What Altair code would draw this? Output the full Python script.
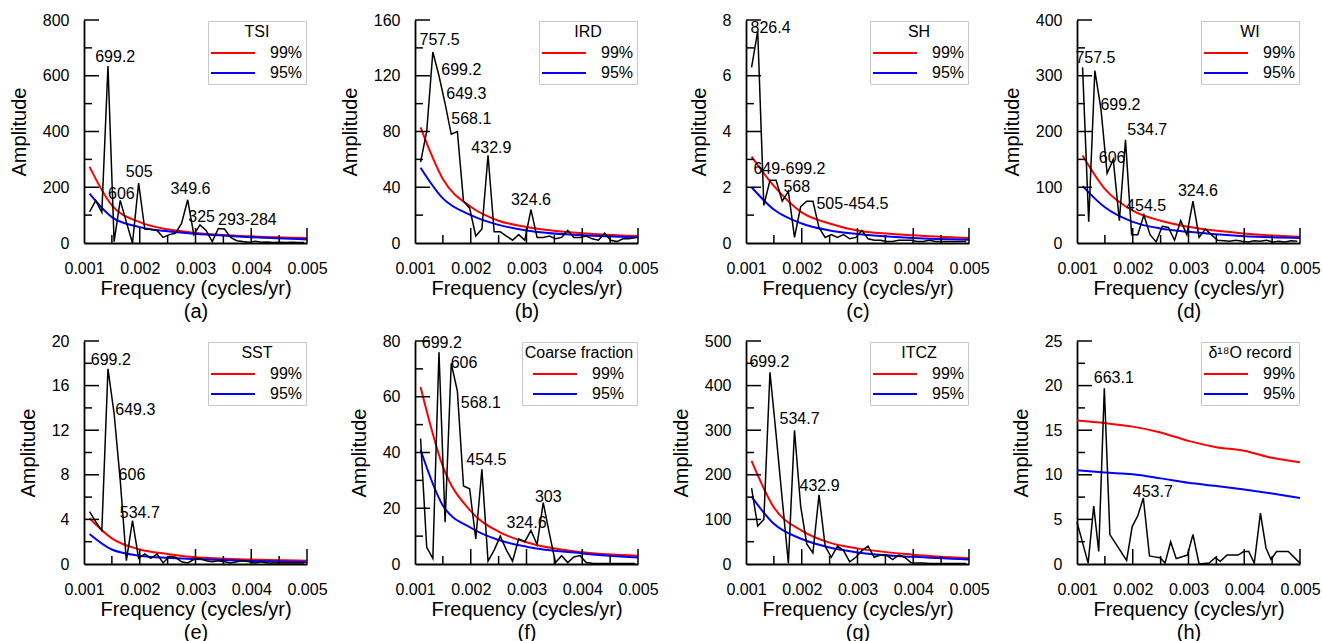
import altair as alt
import pandas as pd

FONT = "Liberation Sans"
W = 223
H = 223
MAJOR_TICK_PX = 15
MINOR_TICK_PX = 8

# ---- spectral frequencies (cycles/yr) ----
FREQ = [0.00110, 0.00121, 0.00132, 0.00143, 0.00154, 0.00165, 0.00176, 0.00187,
        0.00198, 0.00209, 0.00220, 0.00231, 0.00242, 0.00253, 0.00264, 0.00275,
        0.00286, 0.00297, 0.00308, 0.00319, 0.00330, 0.00341, 0.00352, 0.00363,
        0.00374, 0.00385, 0.00396, 0.00407, 0.00418, 0.00429, 0.00440, 0.00451,
        0.00462, 0.00473, 0.00484, 0.00495]

TSI = [112, 152, 110, 635, 5, 153, 75, 0, 215, 50, 48, 45, 20, 30, 35, 70, 155, 30,
       65, 45, 5, 52, 50, 20, 8, 5, 3, 6, 3, 4, 2, 3, 2, 3, 2, 2]
IRD = [58, 80, 137, 120, 100, 78, 80, 30, 25, 5, 10, 63, 8, 8, 5, 2, 6, 2,
       24, 4, 4, 5, 3, 4, 9, 4, 4, 5, 3, 2, 7, 2, 1, 3, 3, 4]
SH = [6.3, 7.6, 1.35, 2.25, 2.25, 1.5, 1.85, 0.2, 1.3, 1.5, 1.5, 0.55, 0.2, 0.3,
      0.2, 0.3, 0.15, 0.2, 0.45, 0.15, 0.1, 0.1, 0.05, 0.05, 0.1, 0.1, 0.1, 0.05,
      0.05, 0.1, 0.05, 0.05, 0.05, 0.05, 0.05, 0.05]
WI = [315, 38, 309, 240, 125, 150, 40, 185, 15, 15, 50, 15, 2, 30, 28, 5, 40, 15,
      75, 10, 25, 15, 5, 4, 3, 5, 3, 2, 4, 3, 5, 2, 3, 2, 4, 3]
SST = [4.7, 3.8, 3.0, 17.5, 13.5, 7.5, 0.3, 3.9, 0.5, 0.9, 0.5, 0.9, 0.1, 0.7,
       0.6, 0.2, 0.1, 0.4, 0.5, 0.3, 0.2, 0.3, 0.2, 0.1, 0.2, 0.3, 0.2, 0.1, 0.2,
       0.1, 0.1, 0.1, 0.1, 0.1, 0.1, 0.1]
COARSE = [45, 6, 2, 76, 15, 72, 62, 28, 27, 9, 34, 1, 5, 10, 5, 1, 9, 8, 12, 7,
          22, 11, 0.5, 3, 0.5, 2.5, 3, 0.5, 0.3, 0.2, 0.2, 0.2, 0.2, 0.2, 0.2, 0.2]
ITCZ = [170, 85, 100, 430, 290, 145, 2, 300, 130, 45, 25, 155, 40, 15, 40, 30, 5,
        15, 30, 40, 15, 20, 20, 10, 20, 15, 3, 2, 2, 1, 1, 1, 1, 1, 1, 1]

D18O_FREQ = [0.00100, 0.00120, 0.00130, 0.00139, 0.00149, 0.00159, 0.00189,
             0.00199, 0.00209, 0.00219, 0.00230, 0.00239, 0.00249, 0.00258,
             0.00268, 0.00278, 0.00298, 0.00308, 0.00319, 0.00337, 0.00348,
             0.00357, 0.00369, 0.00389, 0.00399, 0.00408, 0.00418, 0.00429,
             0.00439, 0.00448, 0.00458, 0.00479, 0.00500]
D18O = [4.7, 0.1, 6.5, 1.4, 19.7, 3.3, 0.4, 4.2, 5.4, 7.4, 0.9, 0.8, 0.7, 0.1, 2.5,
        0.6, 1.0, 3.3, 0.0, 0.1, 0.7, 0.3, 1.0, 1.0, 1.4, 1.4, 0.1, 5.7, 1.8, 0.5,
        1.4, 1.4, 0.1]

# ---- confidence levels ----
CONF_FREQ = [0.0011, 0.0015, 0.002, 0.0025, 0.003, 0.004, 0.005]
TSI_99 = [273, 135, 75, 49, 36, 24, 18]
TSI_95 = [177, 93, 57, 42, 33, 21, 13]
IRD_99 = [83, 46, 26, 16, 11.5, 7, 5]
IRD_95 = [54, 32, 20, 13, 9, 5.5, 4]
SH_99 = [3.1, 2.05, 1.1, 0.7, 0.45, 0.28, 0.18]
SH_95 = [2.0, 1.2, 0.7, 0.45, 0.32, 0.18, 0.12]
WI_99 = [157, 97, 58, 40, 29, 17, 11]
WI_95 = [102, 64, 38, 26, 20, 12, 9]
SST_99 = [4.1, 2.3, 1.3, 0.9, 0.6, 0.4, 0.3]
SST_95 = [2.7, 1.3, 0.75, 0.55, 0.45, 0.27, 0.18]
COARSE_99 = [63.5, 35, 19, 11.6, 7.8, 4.2, 3]
COARSE_95 = [41, 21, 13, 8.6, 6.2, 3.8, 2.3]
ITCZ_99 = [231, 127, 75, 48, 35, 21, 13]
ITCZ_95 = [151, 90, 56, 37, 26, 16, 10]
D18O_CONF_FREQ = [0.001, 0.0015, 0.002, 0.0025, 0.003, 0.0035, 0.004, 0.0045, 0.005]
D18O_99 = [16.1, 15.8, 15.4, 14.75, 13.8, 13.1, 12.7, 11.9, 11.4]
D18O_95 = [10.5, 10.25, 10.05, 9.6, 9.1, 8.75, 8.35, 7.9, 7.4]

# ---- peak annotations: (text, frequency, amplitude) ----
TSI_LABELS = [("699.2", 0.00156, 667), ("606", 0.00167, 177), ("505", 0.00199, 253),
              ("349.6", 0.00291, 193), ("325", 0.00311, 93), ("293-284", 0.00393, 81)]
IRD_LABELS = [("757.5", 0.00144, 146), ("699.2", 0.00183, 124), ("649.3", 0.00192, 106.6),
              ("568.1", 0.00201, 89), ("432.9", 0.00237, 68.5), ("324.6", 0.00308, 31)]
SH_LABELS = [("826.4", 0.00144, 7.72), ("649-699.2", 0.00178, 2.65), ("568", 0.00191, 2.01),
             ("505-454.5", 0.00291, 1.41)]
WI_LABELS = [("757.5", 0.00133, 332), ("699.2", 0.00178, 247), ("534.7", 0.00226, 203),
             ("606", 0.00163, 152), ("454.5", 0.00224, 66), ("324.6", 0.00317, 93)]
SST_LABELS = [("699.2", 0.00148, 18.3), ("649.3", 0.00192, 13.8), ("606", 0.00186, 7.96),
              ("534.7", 0.00200, 4.55)]
COARSE_LABELS = [("699.2", 0.00148, 79.2), ("606", 0.00188, 72.2), ("568.1", 0.00218, 57.8),
                 ("454.5", 0.00228, 37.4), ("324.6", 0.00300, 14.6), ("303", 0.00339, 24)]
ITCZ_LABELS = [("699.2", 0.00142, 453), ("534.7", 0.00196, 324), ("432.9", 0.00232, 175)]
D18O_LABELS = [("663.1", 0.00166, 20.9), ("453.7", 0.00236, 8.1)]

X_MIN, X_MAX = 0.001, 0.005
X_LABELS = [0.001, 0.002, 0.003, 0.004, 0.005]
X_MAJOR = [0.002, 0.003, 0.004, 0.005]
X_MINOR = [0.0015, 0.0025, 0.0035, 0.0045]

PANELS = [
    ("TSI", "a", FREQ, TSI, CONF_FREQ, TSI_99, TSI_95, 800, 200, TSI_LABELS),
    ("IRD", "b", FREQ, IRD, CONF_FREQ, IRD_99, IRD_95, 160, 40, IRD_LABELS),
    ("SH", "c", FREQ, SH, CONF_FREQ, SH_99, SH_95, 8, 2, SH_LABELS),
    ("WI", "d", FREQ, WI, CONF_FREQ, WI_99, WI_95, 400, 100, WI_LABELS),
    ("SST", "e", FREQ, SST, CONF_FREQ, SST_99, SST_95, 20, 4, SST_LABELS),
    ("Coarse fraction", "f", FREQ, COARSE, CONF_FREQ, COARSE_99, COARSE_95, 80, 20, COARSE_LABELS),
    ("ITCZ", "g", FREQ, ITCZ, CONF_FREQ, ITCZ_99, ITCZ_95, 500, 100, ITCZ_LABELS),
    ("δ¹⁸O record", "h", D18O_FREQ, D18O, D18O_CONF_FREQ, D18O_99, D18O_95, 25, 5, D18O_LABELS),
]


def make_panel(name, letter, freq, amp, cfreq, c99, c95, ymax, ystep, labels):
    ymajor = [ystep * i for i in range(int(round(ymax / ystep)) + 1)]
    yminor = [v + ystep / 2 for v in ymajor[:-1]]

    xs = alt.Scale(domain=[X_MIN, X_MAX], nice=False, zero=False)
    ys = alt.Scale(domain=[0, ymax], nice=False, zero=True)
    xaxis = alt.Axis(values=X_LABELS, format=".3f", ticks=False, tickSize=0, grid=False,
                     domainColor="black", domainWidth=1.8,
                     labelFont=FONT, labelFontSize=16, labelColor="black",
                     labelPadding=17, labelFlush=False, labelOverlap=False,
                     title=["Frequency (cycles/yr)", f"({letter})"],
                     titleFont=FONT, titleFontSize=20, titleFontWeight="normal",
                     titleColor="black", titlePadding=2, titleLineHeight=23)
    yaxis = alt.Axis(values=ymajor, format="d", ticks=False, tickSize=0, grid=False,
                     domainColor="black", domainWidth=1.8,
                     labelFont=FONT, labelFontSize=16, labelColor="black",
                     labelPadding=15, labelFlush=False, labelOverlap=False,
                     title="Amplitude", titleFont=FONT, titleFontSize=20,
                     titleFontWeight="normal", titleColor="black", titlePadding=13)

    def X():
        return alt.X("f:Q", scale=xs, axis=xaxis)

    def Y():
        return alt.Y("a:Q", scale=ys, axis=yaxis)

    # spectrum plus inward axis ticks, each tick a separate two-point segment
    sid, sord, sf, sa = [], [], [], []
    for i, (fv, av) in enumerate(zip(freq, amp)):
        sid.append("spec"); sord.append(i); sf.append(fv); sa.append(av)
    n = 0
    for v, px in [(v, MAJOR_TICK_PX) for v in X_MAJOR] + [(v, MINOR_TICK_PX) for v in X_MINOR]:
        sid += [f"t{n}", f"t{n}"]; sord += [0, 1]; sf += [v, v]; sa += [0.0, ymax * px / H]; n += 1
    for v, px in [(v, MAJOR_TICK_PX) for v in ymajor[1:]] + [(v, MINOR_TICK_PX) for v in yminor]:
        sid += [f"t{n}", f"t{n}"]; sord += [0, 1]
        sf += [X_MIN, X_MIN + (X_MAX - X_MIN) * px / W]; sa += [v, v]; n += 1
    sdf = pd.DataFrame({"id": sid, "o": sord, "f": sf, "a": sa})
    spectrum = alt.Chart(sdf).mark_line(strokeWidth=1.5).encode(
        x=X(), y=Y(), detail="id:N", order="o:Q",
        stroke=alt.condition(alt.datum.id == "spec", alt.value("black"), alt.value("#000000")))

    cdf = pd.DataFrame({
        "f": list(cfreq) + list(cfreq),
        "a": list(c99) + list(c95),
        "s": ["99%"] * len(c99) + ["95%"] * len(c95),
    })
    curves = alt.Chart(cdf).mark_line(strokeWidth=2, interpolate="monotone").encode(
        x=X(), y=Y(),
        color=alt.Color("s:N", scale=alt.Scale(domain=["99%", "95%"], range=["#ff0000", "#0000ff"]),
                        legend=alt.Legend(
                            title=name, orient="top-right", offset=1,
                            symbolType="M-1.333,0H6", symbolSize=144, symbolStrokeWidth=2,
                            labelFont=FONT, labelFontSize=16, labelColor="black", labelOffset=43,
                            titleFont=FONT, titleFontSize=16, titleFontWeight="normal",
                            titleColor="black", titleAnchor="middle", titlePadding=5,
                            rowPadding=4, padding=3, strokeColor="#c8c8c8", fillColor="white")),
    )

    ldf = pd.DataFrame({"t": [l[0] for l in labels], "f": [l[1] for l in labels],
                        "a": [l[2] for l in labels]})
    text = alt.Chart(ldf).mark_text(font=FONT, fontSize=16, color="black", align="center",
                                    baseline="middle").encode(x=X(), y=Y(), text="t:N")

    return alt.layer(curves, spectrum, text).properties(width=W, height=H)


panels = [make_panel(*p) for p in PANELS]

chart = alt.concat(*panels, columns=4, spacing={"row": 98, "column": 108}, bounds="flush").resolve_scale(
    color="independent", x="independent", y="independent"
).configure_view(stroke=None).properties(
    padding={"left": 9, "top": 12, "right": 0, "bottom": 0}
)

chart.save("out.html", embed_options={"renderer": "svg", "actions": False})
